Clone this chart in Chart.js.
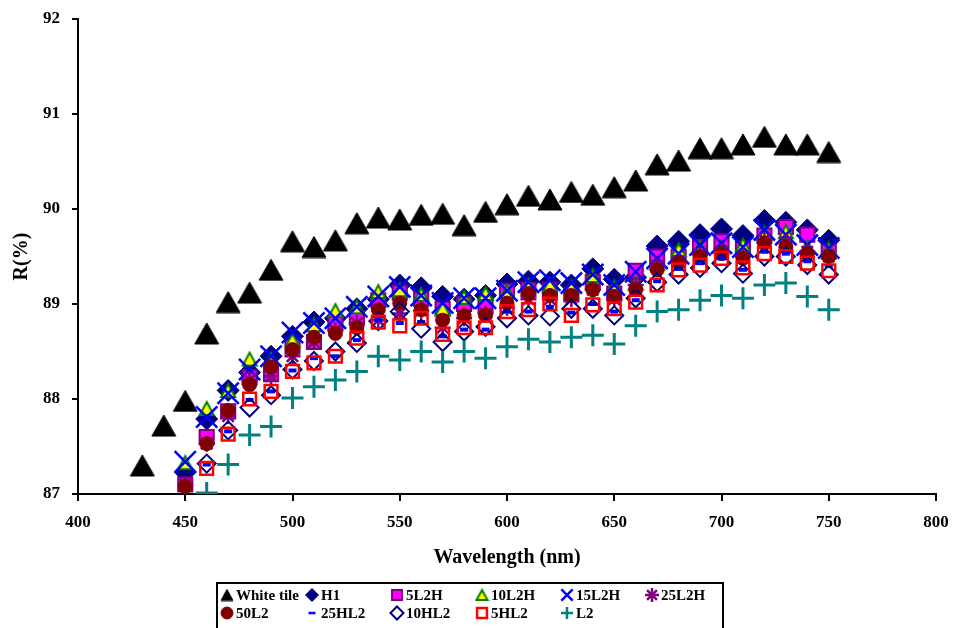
<!DOCTYPE html>
<html>
<head>
<meta charset="utf-8">
<script src="https://cdn.jsdelivr.net/npm/chart.js@4.4.1/dist/chart.umd.min.js"></script>
<style>
  body { margin: 0; background: #fff; }
  #wrap { width: 955px; height: 628px; }
</style>
</head>
<body>
<div id="wrap"><canvas id="chart" width="955" height="628"></canvas></div>
<script>
// wavelengths (nm)
const tileWavelengths = [430, 440, 450, 460, 470, 480, 490, 500, 510, 520, 530, 540, 550, 560, 570, 580, 590,
    600, 610, 620, 630, 640, 650, 660, 670, 680, 690, 700, 710, 720, 730, 740, 750];
const wavelengths = tileWavelengths.slice(2);

// reflectance R(%)
const whiteTile = [87.30, 87.72, 87.98, 88.69, 89.02, 89.12, 89.36, 89.66, 89.60, 89.67, 89.85, 89.91, 89.89, 89.94, 89.95, 89.83, 89.97,
    90.05, 90.14, 90.10, 90.18, 90.15, 90.23, 90.30, 90.47, 90.51, 90.64, 90.64, 90.68, 90.76, 90.68, 90.68, 90.60];
const h1 = [87.23, 87.79, 88.09, 88.28, 88.45, 88.66, 88.81, 88.85, 88.95, 89.05, 89.20, 89.17, 89.08, 89.05, 89.09,
    89.21, 89.24, 89.23, 89.20, 89.37, 89.26, 89.28, 89.61, 89.66, 89.73, 89.79, 89.72, 89.88, 89.86, 89.78, 89.67];
const l2h5 = [87.10, 87.60, 87.87, 88.23, 88.26, 88.55, 88.60, 88.80, 88.85, 89.04, 89.12, 89.05, 88.95, 89.00, 88.99,
    89.14, 89.15, 89.15, 89.10, 89.23, 89.11, 89.35, 89.50, 89.50, 89.60, 89.66, 89.58, 89.72, 89.81, 89.73, 89.55];
const l2h10 = [87.33, 87.90, 88.09, 88.42, 88.42, 88.62, 88.78, 88.93, 88.97, 89.13, 89.15, 89.10, 88.95, 89.07, 89.11,
    89.13, 89.20, 89.20, 89.18, 89.30, 89.18, 89.22, 89.43, 89.57, 89.60, 89.60, 89.62, 89.75, 89.76, 89.60, 89.58];
const l2h15 = [87.34, 87.81, 88.06, 88.31, 88.45, 88.70, 88.80, 88.85, 88.97, 89.08, 89.18, 89.09, 89.01, 89.06, 89.06,
    89.14, 89.23, 89.25, 89.22, 89.31, 89.20, 89.34, 89.48, 89.53, 89.62, 89.64, 89.60, 89.78, 89.73, 89.62, 89.59];
const l2h25 = [87.10, 87.53, 87.82, 88.20, 88.24, 88.45, 88.60, 88.72, 88.80, 88.83, 88.90, 88.93, 88.75, 88.85, 88.90,
    88.96, 89.05, 89.05, 89.05, 89.15, 89.05, 89.20, 89.40, 89.45, 89.52, 89.55, 89.50, 89.68, 89.65, 89.55, 89.50];
const l2x50 = [87.08, 87.53, 87.88, 88.15, 88.34, 88.52, 88.65, 88.69, 88.75, 88.94, 89.01, 88.94, 88.83, 88.88, 88.88,
    89.01, 89.11, 89.09, 89.09, 89.15, 89.08, 89.15, 89.36, 89.43, 89.50, 89.53, 89.48, 89.64, 89.60, 89.53, 89.50];
const hl2x25 = [null, 87.31, 87.66, 87.99, 88.08, 88.30, 88.43, 88.45, 88.62, 88.83, 88.80, 88.81, 88.66, 88.73, 88.73,
    88.92, 88.92, 88.97, 88.91, 89.00, 88.92, 89.04, 89.24, 89.37, 89.43, 89.48, 89.36, 89.55, 89.53, 89.45, 89.40];
const hl2x10 = [null, 87.32, 87.67, 87.91, 88.04, 88.31, 88.40, 88.50, 88.59, 88.82, 88.92, 88.74, 88.60, 88.71, 88.76,
    88.85, 88.88, 88.87, 88.95, 88.95, 88.88, 89.06, 89.23, 89.31, 89.38, 89.43, 89.32, 89.50, 89.50, 89.41, 89.31];
const hl2x5 = [null, 87.27, 87.63, 88.00, 88.08, 88.29, 88.38, 88.45, 88.64, 88.81, 88.77, 88.85, 88.68, 88.75, 88.75,
    88.92, 88.94, 89.00, 88.88, 88.99, 88.95, 89.02, 89.20, 89.36, 89.41, 89.48, 89.38, 89.53, 89.50, 89.43, 89.35];
const l2 = [null, 87.01, 87.31, 87.62, 87.71, 88.01, 88.13, 88.20, 88.29, 88.45, 88.41, 88.50, 88.39, 88.50, 88.43,
    88.55, 88.63, 88.60, 88.65, 88.67, 88.58, 88.77, 88.92, 88.94, 89.04, 89.09, 89.06, 89.20, 89.22, 89.08, 88.94];

const xTicks = [400, 450, 500, 550, 600, 650, 700, 750, 800];
const yTicks = [87, 88, 89, 90, 91, 92];

function pts(xs, ys) {
    return xs.map((x, i) => ({ x: x, y: ys[i] })).filter(p => p.y !== null);
}

// triangle marker centred on its bounding box (built-in one sits on the centroid)
function triangleMarker(w, h, fill, stroke, lw) {
    const c = document.createElement('canvas');
    c.width = Math.ceil(w + lw * 2);
    c.height = Math.ceil(h + lw * 2);
    const g = c.getContext('2d');
    const ox = (c.width - w) / 2, oy = (c.height - h) / 2;
    g.beginPath();
    g.moveTo(ox + w / 2, oy);
    g.lineTo(ox + w, oy + h);
    g.lineTo(ox, oy + h);
    g.closePath();
    g.fillStyle = fill;
    g.fill();
    g.lineWidth = lw;
    g.lineJoin = 'miter';
    g.strokeStyle = stroke;
    g.stroke();
    return c;
}

// name, values, marker look (plot size / legend size)
const series = [
    { label: 'White tile', x: tileWavelengths, y: whiteTile, style: triangleMarker(24, 21, '#000', '#000', 1),
      legendStyle: triangleMarker(12, 11, '#000', '#000', 1), r: 13, lr: 8, bg: '#000000', bd: '#000000', bw: 1 },
    { label: 'H1', x: wavelengths, y: h1, style: 'rectRot', r: 11, lr: 6.5, bg: '#000080', bd: '#000080', bw: 1 },
    { label: '5L2H', x: wavelengths, y: l2h5, style: 'rect', r: 10, lr: 7, bg: '#ff00ff', bd: '#800080', bw: 2 },
    { label: '10L2H', x: wavelengths, y: l2h10, style: triangleMarker(14, 13, '#ffff00', '#008000', 2),
      legendStyle: triangleMarker(11, 10, '#ffff00', '#008000', 2), r: 9, lr: 7, bg: '#ffff00', bd: '#008000', bw: 2 },
    { label: '15L2H', x: wavelengths, y: l2h15, style: 'crossRot', r: 15, lr: 8, bg: 'rgba(0,0,0,0)', bd: '#0000ff', bw: 2.5 },
    { label: '25L2H', x: wavelengths, y: l2h25, style: 'star', r: 8, lr: 7, bg: 'rgba(0,0,0,0)', bd: '#800080', bw: 2.5 },
    { label: '50L2', x: wavelengths, y: l2x50, style: 'circle', r: 7, lr: 6, bg: '#800000', bd: '#800000', bw: 1 },
    { label: '25HL2', x: wavelengths, y: hl2x25, style: 'line', r: 4, lr: 3.5, bg: '#0000ff', bd: '#0000ff', bw: 4 },
    { label: '10HL2', x: wavelengths, y: hl2x10, style: 'rectRot', r: 9, lr: 6.5, bg: 'rgba(0,0,0,0)', bd: '#000080', bw: 2 },
    { label: '5HL2', x: wavelengths, y: hl2x5, style: 'rect', r: 9, lr: 7, bg: 'rgba(0,0,0,0)', bd: '#ff0000', bw: 2.5 },
    { label: 'L2', x: wavelengths, y: l2, style: 'cross', r: 11, lr: 6, bg: 'rgba(0,0,0,0)', bd: '#008080', bw: 3 }
];

const datasets = series.map((s, i) => ({
    label: s.label,
    data: pts(s.x, s.y),
    showLine: false,
    pointStyle: s.style,
    pointRadius: s.r,
    pointHoverRadius: s.r,
    pointBackgroundColor: s.bg,
    pointBorderColor: s.bd,
    pointBorderWidth: s.bw,
    legendStyle: s.legendStyle || s.style,
    legendRadius: s.lr,
    // later series sit on top
    order: series.length - i
}));

// legend box under the axis, two rows of six columns
const boxLegend = {
    id: 'boxLegend',
    afterDraw(chart) {
        const ctx = chart.ctx;
        ctx.save();
        ctx.lineWidth = 2;
        ctx.strokeStyle = '#000';
        ctx.strokeRect(217, 583, 506, 60);
        ctx.font = 'bold 15px "Liberation Serif"';
        ctx.textBaseline = 'middle';
        ctx.textAlign = 'left';
        chart.data.datasets.forEach((ds, i) => {
            const col = i % 6;
            const row = Math.floor(i / 6);
            const x = 227 + col * 85;
            const y = 595 + row * 18;
            ctx.fillStyle = ds.pointBackgroundColor;
            ctx.strokeStyle = ds.pointBorderColor;
            ctx.lineWidth = Math.min(ds.pointBorderWidth, 2.5);
            Chart.helpers.drawPoint(ctx, {
                pointStyle: ds.legendStyle,
                radius: ds.legendRadius,
                borderWidth: ctx.lineWidth,
                rotation: 0
            }, x, y);
            ctx.fillStyle = '#000';
            ctx.fillText(ds.label, x + 9, y + 1);
        });
        ctx.restore();
    }
};

Chart.defaults.font.family = '"Liberation Serif", "Times New Roman", serif';
Chart.defaults.font.weight = 'bold';
Chart.defaults.color = '#000';

new Chart(document.getElementById('chart'), {
    type: 'scatter',
    data: { datasets: datasets },
    options: {
        responsive: false,
        animation: false,
        events: [],
        layout: { padding: { top: 19, right: 19, bottom: 58, left: 0 } },
        plugins: {
            legend: { display: false },
            tooltip: { enabled: false }
        },
        scales: {
            x: {
                type: 'linear',
                min: 400,
                max: 800,
                afterBuildTicks: scale => { scale.ticks = xTicks.map(v => ({ value: v })); },
                afterFit: scale => { scale.height = 76; scale.paddingLeft = 0; scale.paddingRight = 0; },
                border: { display: true, color: '#000', width: 2 },
                grid: { display: true, drawOnChartArea: false, drawTicks: true, tickLength: 7, color: '#000', lineWidth: 2 },
                ticks: { padding: 11, font: { size: 17, weight: 'bold' }, maxRotation: 0 },
                title: { display: true, text: 'Wavelength (nm)', font: { size: 20, weight: 'bold' }, padding: { top: 0, bottom: 0 } }
            },
            y: {
                type: 'linear',
                min: 87,
                max: 92,
                afterBuildTicks: scale => { scale.ticks = yTicks.map(v => ({ value: v })); },
                afterFit: scale => { scale.width = 78; scale.paddingTop = 0; scale.paddingBottom = 0; },
                border: { display: true, color: '#000', width: 2 },
                grid: { display: true, drawOnChartArea: false, drawTicks: true, tickLength: 6, color: '#000', lineWidth: 2 },
                ticks: { padding: 12, font: { size: 17, weight: 'bold' } },
                title: { display: true, text: 'R(%)', font: { size: 20, weight: 'bold' }, padding: { top: 10, bottom: 0 } }
            }
        }
    },
    plugins: [boxLegend]
});
</script>
</body>
</html>
